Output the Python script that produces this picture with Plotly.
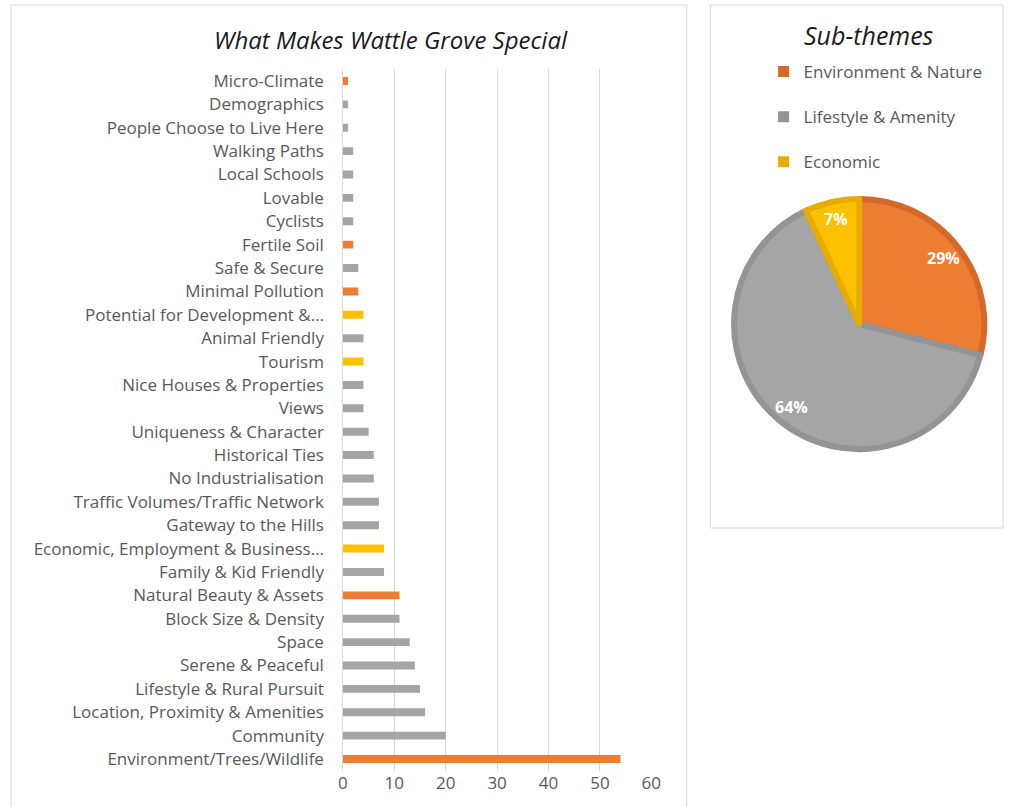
import plotly.graph_objects as go
import math

W, H = 1015, 807

categories = [
    "Micro-Climate", "Demographics", "People Choose to Live Here", "Walking Paths",
    "Local Schools", "Lovable", "Cyclists", "Fertile Soil", "Safe & Secure",
    "Minimal Pollution", "Potential for Development &…", "Animal Friendly", "Tourism",
    "Nice Houses & Properties", "Views", "Uniqueness & Character", "Historical Ties",
    "No Industrialisation", "Traffic Volumes/Traffic Network", "Gateway to the Hills",
    "Economic, Employment & Business…", "Family & Kid Friendly", "Natural Beauty & Assets",
    "Block Size & Density", "Space", "Serene & Peaceful", "Lifestyle & Rural Pursuit",
    "Location, Proximity & Amenities", "Community", "Environment/Trees/Wildlife",
]
values = [1, 1, 1, 2, 2, 2, 2, 2, 3, 3, 4, 4, 4, 4, 4, 5, 6, 6, 7, 7, 8, 8, 11, 11, 13, 14, 15, 16, 20, 54]
themes = ["Env", "Life", "Life", "Life", "Life", "Life", "Life", "Env", "Life", "Env",
          "Eco", "Life", "Eco", "Life", "Life", "Life", "Life", "Life", "Life", "Life",
          "Eco", "Life", "Env", "Life", "Life", "Life", "Life", "Life", "Life", "Env"]

pie_labels = ["Environment & Nature", "Lifestyle & Amenity", "Economic"]
pie_values = [29, 64, 7]
x_ticks = [0, 10, 20, 30, 40, 50, 60]

fill = {"Env": "#ED7D31", "Life": "#A5A5A5", "Eco": "#FFC000"}
edge = {"Env": "#D5692A", "Life": "#949494", "Eco": "#E6AC00"}
theme_keys = ["Env", "Life", "Eco"]

# pie geometry (pixels)
PCX, PCY, PR = 867, 324, 127

fig = go.Figure()
fig.add_trace(go.Bar(
    y=categories, x=values, orientation="h",
    marker=dict(color=[fill[t] for t in themes], line=dict(width=0)),
    showlegend=False, hoverinfo="x+y",
))

fig.add_trace(go.Pie(
    labels=pie_labels, values=pie_values, sort=False, direction="clockwise", rotation=0,
    domain=dict(x=[(PCX - PR) / W, (PCX + PR) / W], y=[1 - (PCY + PR) / H, 1 - (PCY - PR) / H]),
    marker=dict(colors=[fill[k] for k in theme_keys],
                line=dict(color=[edge[k] for k in theme_keys], width=6)),
    textinfo="none", showlegend=False,
))

for lab, k in zip(pie_labels, theme_keys):
    fig.add_trace(go.Scatter(
        x=[None], y=[None], mode="markers", name=lab,
        marker=dict(symbol="square", size=11, color=edge[k]),
        showlegend=True, legendgroup=lab,
    ))

annotations = [
    dict(text="<i>What Makes Wattle Grove Special</i>", xref="paper", yref="paper",
         x=392 / W, y=1 - 39 / H, xanchor="center", yanchor="middle", showarrow=False,
         font=dict(size=24, color="#1a1a1a", family="Open Sans")),
    dict(text="<i>Sub-themes</i>", xref="paper", yref="paper",
         x=877 / W, y=1 - 35 / H, xanchor="center", yanchor="middle", showarrow=False,
         font=dict(size=25, color="#1a1a1a", family="Open Sans")),
]

# percentage labels placed along each slice's mid-angle (Excel "best fit" style)
total = sum(pie_values)
cum = 0
for v in pie_values:
    mid = (cum + v / 2) / total * 2 * math.pi
    cum += v
    px = PCX + 0.85 * PR * math.sin(mid)
    py = PCY - 0.85 * PR * math.cos(mid)
    annotations.append(dict(
        text=f"<b>{round(100 * v / total)}%</b>", xref="paper", yref="paper",
        x=px / W, y=1 - py / H, xanchor="center", yanchor="middle", showarrow=False,
        font=dict(size=16, color="white", family="Open Sans"),
    ))

fig.update_layout(
    width=W, height=H, margin=dict(l=0, r=0, t=0, b=0),
    paper_bgcolor="white", plot_bgcolor="white",
    font=dict(family="Open Sans", size=16, color="#595959"),
    bargap=0.66,
    xaxis=dict(domain=[343 / W, 656 / W], range=[0, 60], tickvals=x_ticks,
               showgrid=True, gridcolor="#d9d9d9", gridwidth=1, zeroline=True,
               zerolinecolor="#d9d9d9", zerolinewidth=1, showline=False,
               tickfont=dict(size=17, color="#595959"), ticks="", fixedrange=True),
    yaxis=dict(domain=[1 - 770.7 / H, 1 - 69.3 / H], autorange="reversed",
               showgrid=False, showline=False, ticks="", ticklabelstandoff=18,
               tickfont=dict(size=17, color="#595959"), fixedrange=True),
    legend=dict(x=770 / W, y=1 - 54 / H, xanchor="left", yanchor="top",
                font=dict(size=17, color="#595959"), tracegroupgap=20,
                itemwidth=30, bgcolor="rgba(0,0,0,0)"),
    shapes=[
        dict(type="rect", xref="paper", yref="paper", x0=6 / W, x1=692 / W,
             y0=-0.02, y1=1 - 5 / H, line=dict(color="#d9d9d9", width=1)),
        dict(type="rect", xref="paper", yref="paper", x0=716 / W, x1=1013 / W,
             y0=1 - 528 / H, y1=1 - 5 / H, line=dict(color="#d9d9d9", width=1)),
    ],
    annotations=annotations,
)

fig.write_html("out.html", config={"displayModeBar": False},
               post_script="document.body.style.margin='0';document.body.style.overflow='hidden';")
